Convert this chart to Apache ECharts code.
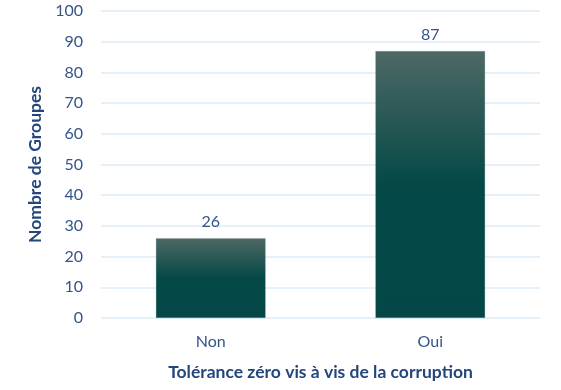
<!DOCTYPE html>
<html><head><meta charset="utf-8">
<script src="https://cdn.jsdelivr.net/npm/echarts@6/dist/echarts.min.js"></script>
<style>html,body{margin:0;padding:0;background:#fff}#c{width:561px;height:390px}</style>
</head><body><div id="c"></div>
<script>
const categories = ['Non', 'Oui'];
const values = [26, 87];
const yTicks = [0, 10, 20, 30, 40, 50, 60, 70, 80, 90, 100];
const xTitle = 'Tolérance zéro vis à vis de la corruption';
const yTitle = 'Nombre de Groupes';

const chart = echarts.init(document.getElementById('c'));
const txt = '#34548a';
const ttl = '#23467c';
chart.setOption({
  animation: false,
  grid: { left: 101, right: 21, top: 11, bottom: 72 },
  xAxis: {
    type: 'category', data: categories,
    axisLine: { show: false }, axisTick: { show: false },
    axisLabel: { color: txt, fontSize: 16, fontFamily: 'Lato', margin: 16 },
    name: xTitle, nameLocation: 'middle', nameGap: 45,
    nameTextStyle: { color: ttl, fontSize: 17.5, fontWeight: 'bold', fontFamily: 'Lato' }
  },
  yAxis: {
    type: 'value', min: yTicks[0], max: yTicks[yTicks.length - 1], interval: 10,
    axisLine: { show: false }, axisTick: { show: false },
    axisLabel: { color: txt, fontSize: 16, fontFamily: 'Lato', margin: 18 },
    splitLine: { lineStyle: { color: '#dcebf7', width: 1.5 } },
    name: yTitle, nameLocation: 'middle', nameGap: 51, nameRotate: 90,
    nameTextStyle: { color: ttl, fontSize: 17.5, fontWeight: 'bold', fontFamily: 'Lato' }
  },
  series: [{
    type: 'bar', data: values, barWidth: '50%',
    itemStyle: {
      color: new echarts.graphic.LinearGradient(0, 0, 0, 1, [
        { offset: 0, color: '#4e6865' },
        { offset: 0.5, color: '#044946' },
        { offset: 1, color: '#034846' }
      ]),
      borderColor: 'rgba(120,150,150,0.5)', borderWidth: 0.5
    },
    label: { show: true, position: 'top', distance: 8, color: txt, fontSize: 16, fontFamily: 'Lato' }
  }]
});
</script></body></html>
